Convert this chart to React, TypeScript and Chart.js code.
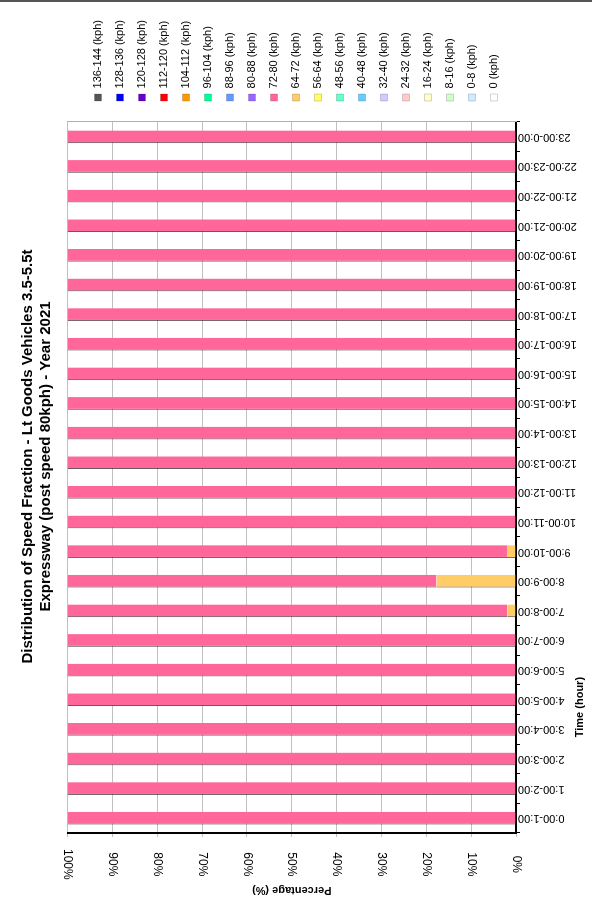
import React, { useEffect, useRef } from 'react';
import { Chart, registerables } from 'chart.js';

Chart.register(...registerables);

const categories = [
  '0:00-1:00', '1:00-2:00', '2:00-3:00', '3:00-4:00', '4:00-5:00', '5:00-6:00',
  '6:00-7:00', '7:00-8:00', '8:00-9:00', '9:00-10:00', '10:00-11:00', '11:00-12:00',
  '12:00-13:00', '13:00-14:00', '14:00-15:00', '15:00-16:00', '16:00-17:00', '17:00-18:00',
  '18:00-19:00', '19:00-20:00', '20:00-21:00', '21:00-22:00', '22:00-23:00', '23:00-0:00',
];

// stacking order: lowest speed band at the base (0%)
const speedBands = [
  '0 (kph)', '0-8 (kph)', '8-16 (kph)', '16-24 (kph)', '24-32 (kph)', '32-40 (kph)',
  '40-48 (kph)', '48-56 (kph)', '56-64 (kph)', '64-72 (kph)', '72-80 (kph)', '80-88 (kph)',
  '88-96 (kph)', '96-104 (kph)', '104-112 (kph)', '112-120 (kph)', '120-128 (kph)',
  '128-136 (kph)', '136-144 (kph)',
];

const bandColors = [
  '#FFFFFF', '#CCECFF', '#CCFFCC', '#FFFFCC', '#FFCCCC', '#CCCCFF',
  '#66CCFF', '#66FFCC', '#FFFF66', '#FFCC66', '#FF6699', '#9966FF',
  '#6699FF', '#00FF99', '#FF9900', '#FF0000', '#6600CC', '#0000FF', '#555555',
];

const emptyBand = [0, 0, 0, 0, 0, 0, 0, 0, 0, 0, 0, 0, 0, 0, 0, 0, 0, 0, 0, 0, 0, 0, 0, 0];
const band64to72 = [0, 0, 0, 0, 0, 0, 0, 1.9, 17.7, 2.0, 0, 0, 0, 0, 0, 0, 0, 0, 0, 0, 0, 0, 0, 0];
const band72to80 = [
  100, 100, 100, 100, 100, 100, 100, 98.1, 82.3, 98.0, 100, 100,
  100, 100, 100, 100, 100, 100, 100, 100, 100, 100, 100, 100,
];

const percentTicks = ['0%', '10%', '20%', '30%', '40%', '50%', '60%', '70%', '80%', '90%', '100%'];

const titleLines = [
  'Distribution of Speed Fraction - Lt Goods Vehicles 3.5-5.5t',
  'Expressway (post speed 80kph) - Year 2021',
];

const xAxisTitle = 'Time (hour)';
// the x-axis title sits under the early-morning hours (category index position)
const xAxisTitleAt = 3.75;

const FONT = "'Liberation Sans', Arial, sans-serif";

const xTitlePlugin = {
  id: 'xTitleAtCategory',
  afterDraw(chart: any) {
    const x = chart.scales.x;
    const ctx = chart.ctx;
    ctx.save();
    ctx.font = `bold 11px ${FONT}`;
    ctx.fillStyle = '#000';
    ctx.textAlign = 'center';
    ctx.textBaseline = 'middle';
    ctx.fillText(xAxisTitle, x.getPixelForValue(xAxisTitleAt), x.bottom - 12);
    ctx.restore();
  },
};

export default function App() {
  const ref = useRef<HTMLCanvasElement>(null);

  useEffect(() => {
    const canvas = ref.current;
    if (!canvas) return;
    Chart.defaults.font.family = FONT;
    Chart.defaults.color = '#000';

    const datasets = speedBands.map((label, i) => {
      let data = emptyBand;
      if (label === '64-72 (kph)') data = band64to72;
      if (label === '72-80 (kph)') data = band72to80;
      return {
        label,
        data,
        backgroundColor: bandColors[i],
        borderColor: 'rgba(40,20,30,0.75)',
        borderWidth: { left: 1, right: 0, top: 0, bottom: 0 },
        borderSkipped: false as const,
        barPercentage: 0.43,
        categoryPercentage: 1,
      };
    });

    const chart = new Chart(canvas, {
      type: 'bar',
      data: { labels: categories, datasets },
      plugins: [xTitlePlugin],
      options: {
        responsive: false,
        animation: false,
        devicePixelRatio: 1,
        layout: { padding: { right: 10, left: 0, top: 0, bottom: 0 } },
        plugins: {
          tooltip: { enabled: false },
          title: {
            display: true,
            text: titleLines,
            color: '#000',
            font: { size: 15, weight: 'bold', family: FONT, lineHeight: 1.25 },
            padding: { top: 18, bottom: 12 },
          },
          legend: {
            position: 'right',
            align: 'center',
            reverse: true,
            labels: {
              color: '#000',
              font: { size: 11, family: FONT },
              boxWidth: 7,
              boxHeight: 7,
              padding: 11,
            },
          },
        },
        scales: {
          x: {
            stacked: true,
            offset: true,
            grid: {
              display: true,
              offset: true,
              drawOnChartArea: false,
              drawTicks: true,
              tickLength: 4,
              color: '#000',
            },
            border: { display: true, color: '#000', width: 2 },
            ticks: {
              autoSkip: false,
              minRotation: 90,
              maxRotation: 90,
              padding: -2,
              color: '#000',
              font: { size: 11, family: FONT },
            },
            title: { display: false },
            afterFit: (s: any) => {
              s.height = 76;
            },
          },
          y: {
            stacked: true,
            min: 0,
            max: 100,
            grid: { color: '#c0c0c0', lineWidth: 1, tickLength: 4 },
            border: { display: true, color: '#000', width: 2 },
            ticks: {
              stepSize: 10,
              minRotation: 180,
              maxRotation: 180,
              crossAlign: 'center',
              padding: 12,
              color: '#000',
              font: { size: 12, family: FONT },
              callback: (v: any) => percentTicks[Math.round(Number(v) / 10)],
            },
            title: {
              display: true,
              text: 'Percentage (%)',
              color: '#000',
              font: { size: 11, weight: 'bold', family: FONT },
              padding: { top: 6, bottom: 0 },
            },
            afterFit: (s: any) => {
              s.width = 70;
            },
          },
          y2: {
            position: 'right',
            display: true,
            min: 0,
            max: 100,
            grid: { display: false, drawOnChartArea: false, drawTicks: false },
            ticks: { display: false },
            border: { display: true, color: '#b0b0b0', width: 1 },
            afterFit: (s: any) => {
              s.width = 10;
            },
          },
        },
      } as any,
    });

    return () => chart.destroy();
  }, []);

  return (
    <div
      style={{
        position: 'fixed',
        left: 0,
        top: 0,
        width: 592,
        height: 903,
        overflow: 'hidden',
        background: '#fff',
      }}
    >
      <div
        style={{
          position: 'absolute',
          left: 0,
          top: 0,
          width: 903,
          height: 592,
          transformOrigin: '0 0',
          transform: 'translateY(903px) rotate(-90deg)',
        }}
      >
        <canvas ref={ref} width={903} height={592} style={{ display: 'block', width: 903, height: 592 }} />
      </div>
      <div style={{ position: 'absolute', left: 0, top: 0, width: 592, height: 2, background: '#555' }} />
    </div>
  );
}
